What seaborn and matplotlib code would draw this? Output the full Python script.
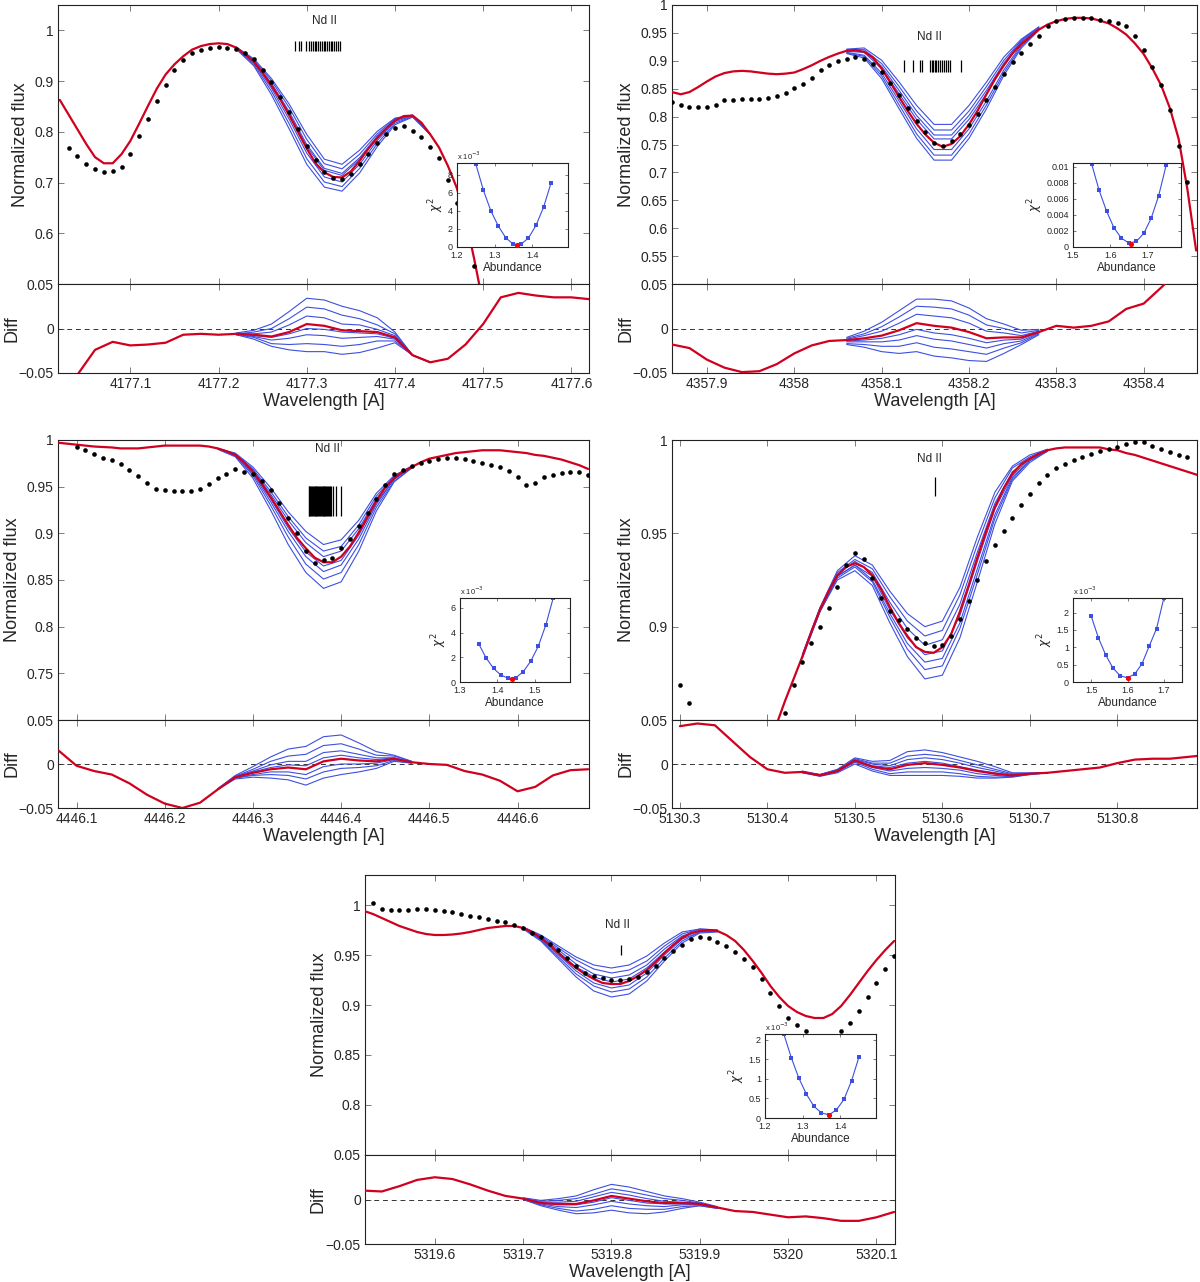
import numpy as np
import matplotlib
matplotlib.use('Agg')
import matplotlib.pyplot as plt
from matplotlib.ticker import MultipleLocator, FuncFormatter
import seaborn as sns

# ---------------- panel 1 : 4177 A ----------------
p1_obs_start = 4177.03
p1_obs = [0.769, 0.752, 0.736, 0.727, 0.720, 0.723, 0.731, 0.757, 0.792, 0.826,
          0.861, 0.893, 0.921, 0.942, 0.955, 0.962, 0.965, 0.967, 0.965, 0.963,
          0.955, 0.943, 0.921, 0.898, 0.868, 0.839, 0.806, 0.773, 0.745, 0.720,
          0.709, 0.707, 0.717, 0.736, 0.757, 0.778, 0.796, 0.807, 0.811, 0.802,
          0.790, 0.771, 0.749, 0.705, 0.660, 0.600, 0.536]
p1_mod_start = 4177.02
p1_mod = [0.863, 0.834, 0.805, 0.776, 0.750, 0.738, 0.738, 0.756, 0.782, 0.816,
          0.851, 0.885, 0.913, 0.933, 0.949, 0.962, 0.969, 0.973, 0.9745, 0.973,
          0.966, 0.953, 0.938, 0.916, 0.891, 0.864, 0.833, 0.800, 0.767, 0.738,
          0.720, 0.711, 0.710, 0.722, 0.743, 0.767, 0.788, 0.806, 0.822, 0.831,
          0.832, 0.818, 0.795, 0.769, 0.733, 0.690, 0.630, 0.548, 0.460]
p1_dif_start = 4177.02
p1_dif = [-0.075, -0.052, -0.024, -0.015, -0.019, -0.018, -0.016, -0.007, -0.006, -0.007,
          -0.006, -0.007, -0.009, -0.004, 0.005, 0.003, -0.002, -0.003, -0.004, -0.010,
          -0.030, -0.038, -0.034, -0.018, 0.005, 0.035, 0.040, 0.037, 0.035, 0.035, 0.033]
p1_core_start = 4177.22
p1_blue = [[0.967, 0.944, 0.905, 0.855, 0.795, 0.746, 0.736, 0.764, 0.801, 0.827, 0.833, 0.795],
           [0.967, 0.942, 0.901, 0.848, 0.785, 0.737, 0.727, 0.756, 0.796, 0.826, 0.833, 0.795],
           [0.966, 0.940, 0.896, 0.840, 0.775, 0.728, 0.718, 0.749, 0.792, 0.824, 0.832, 0.795],
           [0.966, 0.939, 0.893, 0.836, 0.771, 0.724, 0.714, 0.746, 0.790, 0.823, 0.832, 0.795],
           [0.965, 0.936, 0.886, 0.825, 0.758, 0.711, 0.701, 0.736, 0.783, 0.820, 0.831, 0.795],
           [0.964, 0.933, 0.880, 0.816, 0.747, 0.701, 0.692, 0.728, 0.777, 0.817, 0.830, 0.795],
           [0.963, 0.930, 0.873, 0.806, 0.736, 0.691, 0.683, 0.719, 0.771, 0.814, 0.829, 0.795]]
p1_blue_dif = [[-0.007, -0.012, -0.020, -0.024, -0.026, -0.026, -0.029, -0.027, -0.022, -0.016, -0.030, -0.038],
               [-0.007, -0.010, -0.017, -0.018, -0.017, -0.018, -0.020, -0.018, -0.014, -0.014, -0.030, -0.038],
               [-0.007, -0.009, -0.013, -0.011, -0.007, -0.008, -0.011, -0.010, -0.009, -0.012, -0.030, -0.038],
               [-0.006, -0.008, -0.010, -0.006, 0.000, -0.001, -0.004, -0.005, -0.006, -0.011, -0.030, -0.038],
               [-0.006, -0.006, -0.004, 0.004, 0.014, 0.012, 0.005, 0.004, -0.001, -0.008, -0.030, -0.038],
               [-0.006, -0.004, 0.000, 0.011, 0.024, 0.022, 0.015, 0.011, 0.004, -0.006, -0.030, -0.038],
               [-0.005, -0.002, 0.005, 0.019, 0.034, 0.032, 0.025, 0.020, 0.012, -0.004, -0.030, -0.038]]
p1_lines = [4177.287, 4177.291, 4177.294, 4177.299, 4177.302, 4177.305, 4177.307, 4177.309,
            4177.311, 4177.313, 4177.315, 4177.317, 4177.319, 4177.321, 4177.323, 4177.325,
            4177.327, 4177.329, 4177.331, 4177.333, 4177.335, 4177.338]
p1_abund = [1.25, 1.27, 1.29, 1.31, 1.33, 1.35, 1.37, 1.39, 1.41, 1.43, 1.45]
p1_chi2 = [9.2e-3, 6.3e-3, 4.0e-3, 2.3e-3, 1.0e-3, 0.3e-3, 0.3e-3, 1.0e-3, 2.4e-3, 4.4e-3, 7.1e-3]
p1_best = (1.36, 0.25e-3)

# ---------------- panel 2 : 4358 A ----------------
p2_obs_start = 4357.86
p2_obs = [0.826, 0.821, 0.818, 0.818, 0.818, 0.820, 0.829, 0.830, 0.831, 0.832,
          0.832, 0.833, 0.837, 0.842, 0.851, 0.858, 0.870, 0.883, 0.892, 0.899,
          0.904, 0.907, 0.904, 0.895, 0.880, 0.861, 0.839, 0.815, 0.792, 0.772,
          0.752, 0.748, 0.757, 0.768, 0.785, 0.804, 0.829, 0.853, 0.876, 0.898,
          0.914, 0.931, 0.945, 0.963, 0.972, 0.975, 0.977, 0.977, 0.976, 0.974,
          0.972, 0.968, 0.962, 0.944, 0.919, 0.889, 0.857, 0.811, 0.748, 0.682]
p2_mod_start = 4357.86
p2_mod = [0.844, 0.840, 0.844, 0.853, 0.863, 0.872, 0.878, 0.881, 0.882, 0.881,
          0.879, 0.877, 0.876, 0.877, 0.879, 0.885, 0.892, 0.900, 0.907, 0.913,
          0.918, 0.919, 0.916, 0.906, 0.886, 0.861, 0.835, 0.810, 0.787, 0.768,
          0.753, 0.746, 0.751, 0.765, 0.786, 0.811, 0.840, 0.868, 0.892, 0.914,
          0.930, 0.943, 0.956, 0.965, 0.971, 0.975, 0.977, 0.977, 0.976, 0.972,
          0.967, 0.958, 0.947, 0.931, 0.912, 0.886, 0.856, 0.815, 0.760, 0.670, 0.560]
p2_dif_start = 4357.86
p2_dif = [-0.018, -0.022, -0.035, -0.044, -0.049, -0.048, -0.040, -0.028, -0.019, -0.014,
          -0.013, -0.011, -0.008, -0.002, 0.006, 0.003, 0.001, -0.004, -0.011, -0.010,
          -0.010, -0.004, 0.003, 0.001, 0.003, 0.008, 0.022, 0.028, 0.046, 0.065, 0.090]
p2_core_start = 4358.06
p2_blue = [[0.921, 0.923, 0.901, 0.862, 0.820, 0.786, 0.786, 0.820, 0.862, 0.907, 0.939, 0.961],
           [0.920, 0.920, 0.895, 0.854, 0.810, 0.776, 0.776, 0.810, 0.854, 0.901, 0.937, 0.960],
           [0.918, 0.917, 0.890, 0.847, 0.802, 0.767, 0.767, 0.802, 0.847, 0.896, 0.935, 0.959],
           [0.917, 0.915, 0.886, 0.841, 0.795, 0.760, 0.760, 0.795, 0.841, 0.892, 0.933, 0.958],
           [0.915, 0.910, 0.878, 0.828, 0.778, 0.741, 0.741, 0.778, 0.828, 0.884, 0.929, 0.957],
           [0.914, 0.908, 0.873, 0.821, 0.769, 0.731, 0.731, 0.769, 0.821, 0.879, 0.926, 0.956],
           [0.913, 0.905, 0.868, 0.814, 0.761, 0.722, 0.722, 0.761, 0.814, 0.874, 0.923, 0.955]]
p2_blue_dif = [[-0.018, -0.021, -0.026, -0.028, -0.026, -0.031, -0.033, -0.036, -0.037, -0.028, -0.018, -0.007],
               [-0.017, -0.018, -0.020, -0.020, -0.016, -0.021, -0.023, -0.026, -0.029, -0.022, -0.016, -0.006],
               [-0.015, -0.015, -0.015, -0.013, -0.008, -0.012, -0.014, -0.018, -0.022, -0.017, -0.014, -0.005],
               [-0.014, -0.013, -0.011, -0.007, -0.001, -0.005, -0.007, -0.011, -0.016, -0.013, -0.012, -0.004],
               [-0.012, -0.008, -0.003, 0.006, 0.016, 0.014, 0.012, 0.006, -0.003, -0.005, -0.008, -0.003],
               [-0.011, -0.006, 0.002, 0.013, 0.025, 0.024, 0.022, 0.015, 0.004, 0.000, -0.005, -0.002],
               [-0.010, -0.003, 0.007, 0.020, 0.033, 0.033, 0.031, 0.023, 0.011, 0.005, -0.002, -0.001]]
p2_lines = [4358.1255, 4358.1356, 4358.1434, 4358.1465, 4358.1548, 4358.1574, 4358.159,
            4358.161, 4358.1626, 4358.165, 4358.167, 4358.169, 4358.171, 4358.1735,
            4358.176, 4358.178, 4358.191]
p2_abund = [1.55, 1.57, 1.59, 1.61, 1.63, 1.65, 1.67, 1.69, 1.71, 1.73, 1.75]
p2_chi2 = [0.0104, 0.0071, 0.0045, 0.0024, 0.0011, 0.0005, 0.0007, 0.0017, 0.0036, 0.0064, 0.0102]
p2_best = (1.655, 0.0004)

# ---------------- panel 3 : 4446 A ----------------
p3_obs_start = 4446.10
p3_obs = [0.9925, 0.989, 0.985, 0.981, 0.979, 0.974, 0.968, 0.961, 0.954, 0.948,
          0.946, 0.945, 0.945, 0.945, 0.948, 0.953, 0.959, 0.964, 0.969, 0.966,
          0.964, 0.956, 0.946, 0.933, 0.916, 0.900, 0.881, 0.868, 0.871, 0.874,
          0.884, 0.894, 0.908, 0.922, 0.937, 0.952, 0.964, 0.968, 0.972, 0.975,
          0.9775, 0.980, 0.981, 0.981, 0.980, 0.977, 0.975, 0.973, 0.971, 0.967,
          0.960, 0.952, 0.954, 0.960, 0.963, 0.965, 0.966, 0.966, 0.962]
p3_mod_start = 4446.08
p3_mod = [0.997, 0.996, 0.995, 0.994, 0.993, 0.9925, 0.992, 0.991, 0.991, 0.991,
          0.992, 0.993, 0.994, 0.994, 0.994, 0.994, 0.994, 0.993, 0.991, 0.988,
          0.984, 0.976, 0.966, 0.953, 0.939, 0.924, 0.909, 0.895, 0.884, 0.874,
          0.869, 0.869, 0.875, 0.886, 0.901, 0.918, 0.935, 0.949, 0.959, 0.966,
          0.971, 0.976, 0.980, 0.982, 0.984, 0.986, 0.987, 0.988, 0.989, 0.989,
          0.989, 0.988, 0.987, 0.986, 0.984, 0.983, 0.981, 0.979, 0.976, 0.973, 0.969]
p3_dif_start = 4446.08
p3_dif = [0.015, -0.002, -0.008, -0.012, -0.022, -0.035, -0.045, -0.050, -0.044, -0.029,
          -0.015, -0.010, -0.006, -0.004, -0.006, 0.003, 0.006, 0.004, 0.003, 0.006,
          0.002, 0.000, -0.001, -0.008, -0.012, -0.019, -0.031, -0.026, -0.013, -0.007, -0.006]
p3_core_start = 4446.26
p3_blue = [[0.991, 0.986, 0.971, 0.949, 0.923, 0.902, 0.888, 0.893, 0.914, 0.943, 0.962, 0.972],
           [0.991, 0.985, 0.969, 0.945, 0.918, 0.895, 0.881, 0.886, 0.909, 0.940, 0.961, 0.972],
           [0.991, 0.985, 0.968, 0.942, 0.914, 0.890, 0.875, 0.881, 0.905, 0.937, 0.960, 0.971],
           [0.991, 0.984, 0.965, 0.937, 0.906, 0.880, 0.865, 0.871, 0.898, 0.933, 0.958, 0.971],
           [0.991, 0.983, 0.964, 0.934, 0.902, 0.875, 0.859, 0.866, 0.894, 0.931, 0.958, 0.971],
           [0.991, 0.983, 0.962, 0.930, 0.896, 0.867, 0.851, 0.858, 0.888, 0.928, 0.956, 0.970],
           [0.990, 0.982, 0.959, 0.925, 0.888, 0.858, 0.841, 0.848, 0.881, 0.924, 0.955, 0.970]]
p3_blue_dif = [[-0.029, -0.017, -0.015, -0.016, -0.018, -0.024, -0.016, -0.012, -0.009, -0.005, 0.003, 0.001],
               [-0.029, -0.016, -0.013, -0.012, -0.013, -0.017, -0.009, -0.005, -0.004, -0.002, 0.004, 0.001],
               [-0.029, -0.016, -0.012, -0.009, -0.009, -0.012, -0.003, 0.000, 0.000, 0.001, 0.005, 0.002],
               [-0.029, -0.015, -0.009, -0.004, -0.001, -0.002, 0.007, 0.010, 0.007, 0.005, 0.007, 0.002],
               [-0.029, -0.014, -0.008, -0.001, 0.003, 0.003, 0.013, 0.015, 0.011, 0.007, 0.007, 0.002],
               [-0.029, -0.014, -0.006, 0.003, 0.009, 0.011, 0.021, 0.023, 0.017, 0.010, 0.009, 0.003],
               [-0.028, -0.013, -0.003, 0.008, 0.017, 0.020, 0.031, 0.033, 0.024, 0.014, 0.010, 0.003]]
p3_lines = [4446.363, 4446.364, 4446.365, 4446.366, 4446.367, 4446.368, 4446.369, 4446.370,
            4446.371, 4446.372, 4446.373, 4446.374, 4446.375, 4446.376, 4446.377, 4446.378,
            4446.379, 4446.380, 4446.381, 4446.382, 4446.383, 4446.384, 4446.385, 4446.386,
            4446.387, 4446.388, 4446.3907, 4446.3946, 4446.3998]
p3_abund = [1.35, 1.37, 1.39, 1.41, 1.43, 1.45, 1.47, 1.49, 1.51, 1.53, 1.55]
p3_chi2 = [3.1e-3, 1.95e-3, 1.1e-3, 0.55e-3, 0.3e-3, 0.35e-3, 0.85e-3, 1.7e-3, 2.9e-3, 4.6e-3, 6.8e-3]
p3_best = (1.44, 0.27e-3)

# ---------------- panel 4 : 5130 A ----------------
nan = np.nan
p4_obs_start = 5130.30
p4_obs = [0.869, 0.859, nan, nan, nan, nan, nan, nan, nan, nan,
          nan, nan, 0.854, 0.869, 0.881, 0.891, 0.900, 0.910, 0.921, 0.933,
          0.9395, 0.936, 0.926, 0.9155, 0.9086, 0.9036, 0.899, 0.894, 0.891, 0.8895,
          0.890, 0.895, 0.904, 0.914, 0.925, 0.935, 0.944, 0.951, 0.958, 0.965,
          0.971, 0.977, 0.981, 0.985, 0.987, 0.9895, 0.991, 0.9925, 0.994, 0.995,
          0.996, 0.998, 0.999, 0.999, 0.997, 0.995, 0.9935, 0.992, 0.991]
p4_mod_start = 5130.40
p4_mod = [0.830, 0.847, 0.860, 0.872, 0.884, 0.897, 0.909, 0.919, 0.9275, 0.932,
          0.934, 0.932, 0.9275, 0.920, 0.9105, 0.902, 0.895, 0.889, 0.8865, 0.886,
          0.889, 0.896, 0.908, 0.922, 0.937, 0.951, 0.964, 0.974, 0.982, 0.987,
          0.990, 0.9925, 0.9945, 0.9955, 0.996, 0.996, 0.996, 0.996, 0.996, 0.995,
          0.9945, 0.993, 0.992, 0.9905, 0.989, 0.9875, 0.986, 0.9845, 0.983, 0.9815, 0.980]
p4_dif_start = 5130.30
p4_dif = [0.043, 0.046, 0.044, 0.026, 0.008, -0.006, -0.010, -0.009, -0.013, -0.008,
          0.004, -0.003, -0.006, -0.001, 0.001, -0.001, -0.004, -0.008, -0.011, -0.013,
          -0.011, -0.010, -0.008, -0.006, -0.004, 0.001, 0.005, 0.006, 0.006, 0.008, 0.010]
p4_core_start = 5130.44
p4_blue = [[0.885, 0.910, 0.930, 0.938, 0.933, 0.919, 0.907, 0.900, 0.903, 0.921, 0.948, 0.972, 0.986, 0.992, 0.995],
           [0.885, 0.910, 0.929, 0.936, 0.931, 0.916, 0.903, 0.895, 0.898, 0.917, 0.944, 0.969, 0.985, 0.991, 0.995],
           [0.884, 0.909, 0.928, 0.935, 0.929, 0.913, 0.899, 0.890, 0.893, 0.912, 0.940, 0.966, 0.983, 0.990, 0.995],
           [0.884, 0.909, 0.927, 0.933, 0.927, 0.909, 0.894, 0.885, 0.887, 0.906, 0.935, 0.963, 0.981, 0.990, 0.994],
           [0.884, 0.908, 0.927, 0.933, 0.925, 0.907, 0.891, 0.881, 0.883, 0.902, 0.931, 0.960, 0.980, 0.989, 0.994],
           [0.884, 0.908, 0.926, 0.932, 0.924, 0.905, 0.888, 0.877, 0.879, 0.899, 0.928, 0.958, 0.979, 0.989, 0.994],
           [0.883, 0.908, 0.925, 0.930, 0.922, 0.902, 0.884, 0.872, 0.874, 0.894, 0.924, 0.955, 0.978, 0.988, 0.994]]
p4_blue_dif = [[-0.010, -0.014, -0.010, 0.000, -0.008, -0.013, -0.013, -0.013, -0.013, -0.014, -0.016, -0.016, -0.015, -0.012, -0.010],
               [-0.010, -0.013, -0.009, 0.002, -0.006, -0.011, -0.009, -0.009, -0.009, -0.011, -0.014, -0.015, -0.014, -0.012, -0.010],
               [-0.009, -0.013, -0.008, 0.003, -0.004, -0.008, -0.005, -0.004, -0.005, -0.007, -0.011, -0.013, -0.014, -0.011, -0.010],
               [-0.009, -0.013, -0.008, 0.004, -0.002, -0.004, 0.001, 0.003, 0.001, -0.003, -0.007, -0.010, -0.013, -0.011, -0.010],
               [-0.009, -0.012, -0.007, 0.005, 0.000, -0.002, 0.005, 0.007, 0.005, 0.001, -0.004, -0.008, -0.012, -0.011, -0.010],
               [-0.009, -0.012, -0.007, 0.006, 0.001, 0.001, 0.009, 0.011, 0.009, 0.004, -0.001, -0.006, -0.011, -0.011, -0.010],
               [-0.008, -0.012, -0.006, 0.007, 0.003, 0.004, 0.014, 0.016, 0.013, 0.008, 0.003, -0.003, -0.010, -0.010, -0.010]]
p4_lines = [5130.591]
p4_abund = [1.50, 1.52, 1.54, 1.56, 1.58, 1.60, 1.62, 1.64, 1.66, 1.68, 1.70]
p4_chi2 = [1.9e-3, 1.27e-3, 0.78e-3, 0.40e-3, 0.18e-3, 0.12e-3, 0.23e-3, 0.53e-3, 1.04e-3, 1.54e-3, 2.42e-3]
p4_best = (1.60, 0.12e-3)

# ---------------- panel 5 : 5319 A ----------------
p5_obs_start = 5319.53
p5_obs = [1.002, 0.996, 0.995, 0.995, 0.995, 0.996, 0.996, 0.995, 0.994, 0.993,
          0.991, 0.989, 0.988, 0.986, 0.984, 0.983, 0.980, 0.977, 0.972, 0.968,
          0.961, 0.955, 0.947, 0.939, 0.932, 0.929, 0.927, 0.925, 0.925, 0.926,
          0.928, 0.933, 0.939, 0.947, 0.954, 0.960, 0.966, 0.968, 0.967, 0.963,
          0.959, 0.953, 0.946, 0.938, 0.926, 0.912, 0.899, 0.887, 0.880, 0.874,
          0.869, 0.868, 0.869, 0.874, 0.882, 0.894, 0.908, 0.922, 0.936, 0.949]
p5_mod_start = 5319.52
p5_mod = [0.994, 0.991, 0.987, 0.983, 0.979, 0.976, 0.973, 0.971, 0.970, 0.970,
          0.9705, 0.9715, 0.973, 0.975, 0.977, 0.978, 0.979, 0.979, 0.977, 0.973,
          0.967, 0.960, 0.952, 0.944, 0.937, 0.931, 0.926, 0.922, 0.921, 0.921,
          0.924, 0.929, 0.935, 0.943, 0.952, 0.960, 0.967, 0.972, 0.974, 0.975,
          0.974, 0.970, 0.964, 0.955, 0.944, 0.932, 0.919, 0.908, 0.899, 0.893,
          0.889, 0.887, 0.887, 0.891, 0.899, 0.910, 0.922, 0.934, 0.945, 0.955, 0.964]
p5_dif_start = 5319.52
p5_dif = [0.010, 0.009, 0.015, 0.022, 0.025, 0.023, 0.017, 0.010, 0.004, 0.001,
          -0.004, -0.005, -0.005, -0.001, 0.004, 0.001, -0.002, -0.004, -0.004, -0.005,
          -0.009, -0.013, -0.014, -0.017, -0.020, -0.019, -0.021, -0.024, -0.024, -0.020, -0.014]
p5_core_start = 5319.70
p5_blue = [[0.978, 0.970, 0.959, 0.948, 0.940, 0.937, 0.940, 0.949, 0.962, 0.973, 0.976, 0.975],
           [0.978, 0.969, 0.957, 0.945, 0.936, 0.932, 0.935, 0.944, 0.959, 0.971, 0.976, 0.975],
           [0.977, 0.968, 0.955, 0.941, 0.931, 0.927, 0.930, 0.940, 0.956, 0.969, 0.975, 0.974],
           [0.977, 0.967, 0.953, 0.938, 0.928, 0.923, 0.926, 0.937, 0.953, 0.968, 0.974, 0.974],
           [0.977, 0.966, 0.950, 0.934, 0.922, 0.917, 0.920, 0.932, 0.950, 0.966, 0.973, 0.974],
           [0.977, 0.965, 0.948, 0.931, 0.919, 0.913, 0.916, 0.928, 0.947, 0.964, 0.973, 0.974],
           [0.976, 0.964, 0.946, 0.928, 0.914, 0.908, 0.911, 0.924, 0.944, 0.962, 0.972, 0.973]]
p5_blue_dif = [[0.000, -0.007, -0.012, -0.016, -0.015, -0.012, -0.015, -0.016, -0.014, -0.010, -0.007, -0.010],
               [0.000, -0.006, -0.010, -0.013, -0.011, -0.007, -0.010, -0.011, -0.011, -0.008, -0.007, -0.010],
               [0.001, -0.005, -0.008, -0.009, -0.006, -0.002, -0.005, -0.007, -0.008, -0.006, -0.006, -0.009],
               [0.001, -0.004, -0.006, -0.006, -0.003, 0.002, -0.001, -0.004, -0.005, -0.005, -0.005, -0.009],
               [0.001, -0.003, -0.003, -0.002, 0.003, 0.008, 0.005, 0.001, -0.002, -0.003, -0.004, -0.009],
               [0.001, -0.002, -0.001, 0.001, 0.006, 0.012, 0.009, 0.005, 0.001, -0.001, -0.004, -0.009],
               [0.002, -0.001, 0.001, 0.004, 0.011, 0.017, 0.014, 0.009, 0.004, 0.001, -0.003, -0.008]]
p5_lines = [5319.811]
p5_abund = [1.25, 1.27, 1.29, 1.31, 1.33, 1.35, 1.37, 1.39, 1.41, 1.43, 1.45]
p5_chi2 = [2.15e-3, 1.54e-3, 1.02e-3, 0.61e-3, 0.30e-3, 0.13e-3, 0.08e-3, 0.21e-3, 0.48e-3, 0.95e-3, 1.57e-3]
p5_best = (1.37, 0.08e-3)

# ---------------- layout (pixels of the 1200x1282 figure) ----------------
W, H = 1200, 1282
panels = [
    dict(obs=(p1_obs_start, p1_obs), mod=(p1_mod_start, p1_mod), dif=(p1_dif_start, p1_dif),
         core=p1_core_start, blue=p1_blue, bdif=p1_blue_dif, lines=p1_lines,
         chi=(p1_abund, p1_chi2, p1_best),
         xlim=(4177.018, 4177.62), ylim=(0.5, 1.05), ystep=0.1,
         label=(4177.32, 1.019), mark=(0.959, 0.980),
         box=(58, 589, 5, 284, 373), inset=(457, 568, 163, 247),
         ixlim=(1.2, 1.495), iystep=2e-3, iylim=9.3e-3, sci=True),
    dict(obs=(p2_obs_start, p2_obs), mod=(p2_mod_start, p2_mod), dif=(p2_dif_start, p2_dif),
         core=p2_core_start, blue=p2_blue, bdif=p2_blue_dif, lines=p2_lines,
         chi=(p2_abund, p2_chi2, p2_best),
         xlim=(4357.86, 4358.461), ylim=(0.5, 1.0), ystep=0.05,
         label=(4358.155, 0.942), mark=(0.880, 0.901),
         box=(672, 1197, 5, 284, 373), inset=(1073, 1181, 163, 247),
         ixlim=(1.5, 1.79), iystep=2e-3, iylim=0.0105, sci=False),
    dict(obs=(p3_obs_start, p3_obs), mod=(p3_mod_start, p3_mod), dif=(p3_dif_start, p3_dif),
         core=p3_core_start, blue=p3_blue, bdif=p3_blue_dif, lines=p3_lines,
         chi=(p3_abund, p3_chi2, p3_best),
         xlim=(4446.079, 4446.681), ylim=(0.7, 1.0), ystep=0.05,
         label=(4446.385, 0.990), mark=(0.919, 0.9504),
         box=(58, 589, 440, 720, 808), inset=(460, 570, 598, 682),
         ixlim=(1.3, 1.595), iystep=2e-3, iylim=6.8e-3, sci=True),
    dict(obs=(p4_obs_start, p4_obs), mod=(p4_mod_start, p4_mod), dif=(p4_dif_start, p4_dif),
         core=p4_core_start, blue=p4_blue, bdif=p4_blue_dif, lines=p4_lines,
         chi=(p4_abund, p4_chi2, p4_best),
         xlim=(5130.291, 5130.891), ylim=(0.85, 1.0), ystep=0.05,
         label=(5130.585, 0.990), mark=(0.970, 0.980),
         box=(672, 1197, 440, 720, 808), inset=(1073, 1182, 598, 682),
         ixlim=(1.45, 1.75), iystep=0.5e-3, iylim=2.42e-3, sci=True),
    dict(obs=(p5_obs_start, p5_obs), mod=(p5_mod_start, p5_mod), dif=(p5_dif_start, p5_dif),
         core=p5_core_start, blue=p5_blue, bdif=p5_blue_dif, lines=p5_lines,
         chi=(p5_abund, p5_chi2, p5_best),
         xlim=(5319.521, 5320.121), ylim=(0.75, 1.03), ystep=0.05,
         label=(5319.807, 0.980), mark=(0.950, 0.960),
         box=(365, 895, 875, 1155, 1244), inset=(765, 876, 1034, 1118),
         ixlim=(1.2, 1.495), iystep=0.5e-3, iylim=2.15e-3, sci=True),
]

RED = '#d0001e'
BLUE = '#3d4fe0'


def wl(start, n, step):
    return np.round(start + step * np.arange(n), 4)


def fmt(v, pos=None):
    if abs(v) < 1e-9:
        return '0'
    return f'{round(v, 4):g}'.replace('-', '\u2212')


def style(ax, size=10, length=4):
    ax.tick_params(direction='in', top=True, right=True, length=length, width=0.6,
                   color='#666666', labelsize=size, pad=3)
    for s in ax.spines.values():
        s.set_color('#222222')
        s.set_linewidth(0.8)


def line(ax, x, y, color, lw, z):
    sns.lineplot(x=x, y=y, ax=ax, color=color, lw=lw, estimator=None, sort=False,
                 legend=False, zorder=z)


sns.set_style('ticks')
plt.rcParams['font.family'] = ['Liberation Sans', 'DejaVu Sans']

fig = plt.figure(figsize=(W / 100, H / 100), dpi=100)

for P in panels:
    l, r, t, m, b = P['box']
    wpx = r - l
    ax = fig.add_axes([l / W, 1 - m / H, wpx / W, (m - t) / H])
    axd = fig.add_axes([l / W, 1 - b / H, wpx / W, (b - m) / H])

    # spectrum panel
    core_x = wl(P['core'], len(P['blue'][0]), 0.02)
    for bl in P['blue']:
        line(ax, core_x, bl, BLUE, 0.8, 2)
    mx = wl(P['mod'][0], len(P['mod'][1]), 0.01)
    line(ax, mx, P['mod'][1], RED, 1.6, 3)
    ox = wl(P['obs'][0], len(P['obs'][1]), 0.01)
    sns.scatterplot(x=ox, y=P['obs'][1], ax=ax, color='black', s=11, linewidth=0, zorder=4)
    ax.vlines(P['lines'], P['mark'][0], P['mark'][1], color='black', lw=0.9, zorder=5)
    ax.text(P['label'][0], P['label'][1], 'Nd II', ha='center', va='center', fontsize=8.5)
    ax.set_xlim(P['xlim'])
    ax.set_ylim(P['ylim'])
    lo = P['ylim'][0]
    ax.xaxis.set_major_locator(MultipleLocator(0.1))
    ax.yaxis.set_major_locator(MultipleLocator(P['ystep']))
    ax.yaxis.set_major_formatter(FuncFormatter(
        lambda v, p, lo=lo: '' if abs(v - lo) < 1e-6 else fmt(v)))
    style(ax)
    ax.tick_params(labelbottom=False)
    ax.set_ylabel('Normalized flux', fontsize=13, labelpad=4)

    # residual panel
    for bd in P['bdif']:
        line(axd, core_x, bd, BLUE, 0.8, 2)
    dx = wl(P['dif'][0], len(P['dif'][1]), 0.02)
    line(axd, dx, P['dif'][1], RED, 1.6, 3)
    axd.axhline(0, color='#333333', ls=(0, (5, 4)), lw=0.7, zorder=1)
    axd.set_xlim(P['xlim'])
    axd.set_ylim(-0.05, 0.05)
    axd.xaxis.set_major_locator(MultipleLocator(0.1))
    axd.yaxis.set_major_locator(MultipleLocator(0.05))
    axd.xaxis.set_major_formatter(FuncFormatter(fmt))
    axd.yaxis.set_major_formatter(FuncFormatter(fmt))
    style(axd)
    axd.set_ylabel('Diff', fontsize=13)
    axd.yaxis.set_label_coords(-38 / wpx, 0.5)
    axd.set_xlabel('Wavelength [A]', fontsize=13, labelpad=1)

    # chi2 inset
    il, ir, it, ib = P['inset']
    axi = fig.add_axes([il / W, 1 - ib / H, (ir - il) / W, (ib - it) / H])
    ab, chi, best = P['chi']
    sns.lineplot(x=ab, y=chi, ax=axi, color=BLUE, lw=0.8, marker='s', markersize=3,
                 markeredgewidth=0, estimator=None, sort=False, legend=False)
    sns.scatterplot(x=[best[0]], y=[best[1]], ax=axi, color='red', s=14, linewidth=0,
                    zorder=5)
    axi.set_xlim(P['ixlim'])
    axi.set_ylim(0, P['iylim'])
    axi.xaxis.set_major_locator(MultipleLocator(0.1))
    axi.yaxis.set_major_locator(MultipleLocator(P['iystep']))
    axi.xaxis.set_major_formatter(FuncFormatter(fmt))
    style(axi, size=6.5, length=2)
    if P['sci']:
        axi.yaxis.set_major_formatter(FuncFormatter(lambda v, p: fmt(v * 1e3)))
        axi.text(0.0, 1.015, r'x 10$^{-3}$', transform=axi.transAxes, fontsize=5.5,
                 ha='left', va='bottom')
    else:
        axi.yaxis.set_major_formatter(FuncFormatter(fmt))
    axi.set_xlabel('Abundance', fontsize=8.5, labelpad=1)
    axi.set_ylabel(r'$\chi^2$', fontsize=8.5, labelpad=1)

fig.savefig('out.png', dpi=100)
